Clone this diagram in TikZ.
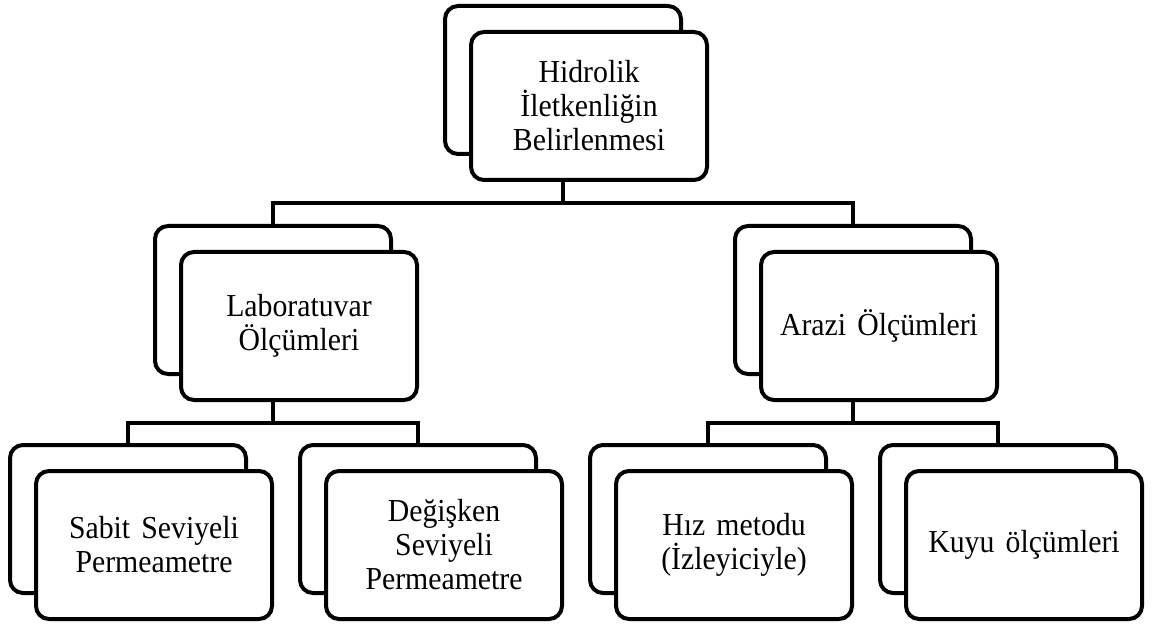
\documentclass[tikz,border=0pt]{standalone}
\usepackage{fontspec}
\setmainfont{Liberation Serif}[FakeStretch=0.93, WordSpace=1.5]
\begin{document}
\begin{tikzpicture}[x=1pt,y=-1pt,
  box/.style={draw=black, line width=4pt, rounded corners=13pt, fill=white,
    minimum width=236pt, minimum height=148pt, inner sep=0pt},
  backbox/.style={box},
  frontbox/.style={box, align=center, font=\fontsize{32}{34}\selectfont},
  conn/.style={draw=black, line width=4pt}]
\useasboundingbox (0,0) rectangle (1153,628);
% bus junctions
\coordinate (bus1) at (563,203);
\coordinate (bus2) at (273,423);
\coordinate (bus3) at (853,423);
% back boxes
\path (563,80) node[backbox] (topb) {};
\path (589,106) node[frontbox] (top) {Hidrolik\\İletkenliğin\\Belirlenmesi};
\path (273,300) node[backbox] (labb) {};
\path (853,300) node[backbox] (arab) {};
\path (128,519) node[backbox] (sabb) {};
\path (418,519) node[backbox] (degb) {};
\path (708,519) node[backbox] (hizb) {};
\path (998,519) node[backbox] (kuyb) {};
% front boxes
\path (299,326) node[frontbox] (lab) {Laboratuvar\\Ölçümleri};
\path (879,326) node[frontbox] (ara) {Arazi Ölçümleri};
\path (154,545) node[frontbox] (sab) {Sabit Seviyeli\\Permeametre};
\path (444,545) node[frontbox] (deg) {Değişken\\Seviyeli\\Permeametre};
\path (734,545) node[frontbox] (hiz) {Hız metodu\\(İzleyiciyle)};
\path (1024,545) node[frontbox] (kuy) {Kuyu ölçümleri};
% connectors
\draw[conn] (top.south -| topb.center) -- (bus1) -| (labb.north);
\draw[conn] (bus1) -| (arab.north);
\draw[conn] (lab.south -| labb.center) -- (bus2) -| (sabb.north);
\draw[conn] (bus2) -| (degb.north);
\draw[conn] (ara.south -| arab.center) -- (bus3) -| (hizb.north);
\draw[conn] (bus3) -| (kuyb.north);
\end{tikzpicture}
\end{document}
